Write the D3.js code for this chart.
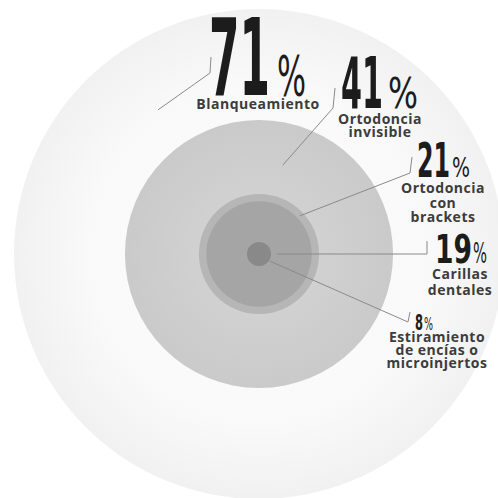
<!DOCTYPE html>
<html>
<head>
<meta charset="utf-8">
<script src="https://cdn.jsdelivr.net/npm/d3@7"></script>
<style>
  html, body { margin: 0; padding: 0; background: #ffffff; }
  svg { display: block; }
</style>
</head>
<body>
<div id="chart"></div>
<script>
// ---- data ----
const categories = ["Blanqueamiento", "Ortodoncia invisible", "Ortodoncia con brackets", "Carillas dentales", "Estiramiento de encías o microinjertos"];
const values = [71, 41, 21, 19, 8];
const labelLines = [
  ["Blanqueamiento"],
  ["Ortodoncia", "invisible"],
  ["Ortodoncia", "con", "brackets"],
  ["Carillas", "dentales"],
  ["Estiramiento", "de encías o", "microinjertos"]
];
const fills = ["#f5f5f5", "#cfcfcf", "#b6b6b6", "#a5a5a5", "#898989"];

// ---- layout (positions/styles only) ----
const W = 498, H = 498;
const cx = 259, cy = 254;
const layout = [
  { nx: 209, base: 95,  nH: 77, nW: 61, pW: 29, pH: 40, gap: 7, tx: 258, tBase: 109, lh: 13,
    anchorAng: -125, anchorR: 176, elbow: [210, 73], tick: [211, 57] },
  { nx: 341, base: 108, nH: 51, nW: 42, pW: 30, pH: 30, gap: 5, tx: 380, tBase: 124, lh: 13,
    anchorAng: -75, anchorR: 92, elbow: [333, 108], tick: [335, 88] },
  { nx: 417, base: 177, nH: 34, nW: 33, pW: 18, pH: 19, gap: 2, tx: 443, tBase: 193, lh: 14.5,
    anchorAng: -43, anchorR: 56, elbow: [410, 173], tick: [412, 157] },
  { nx: 435, base: 263, nH: 28, nW: 37, pW: 14, pH: 20, gap: 1, tx: 460, tBase: 279, lh: 16,
    anchorAng: 0, anchorR: 18, elbow: [427, 254], tick: [427, 241] },
  { nx: 415, base: 330, nH: 15, nW: 8, pW: 9, pH: 12, gap: 1, tx: 437, tBase: 342, lh: 13,
    anchorAng: 33, anchorR: 13, elbow: [408, 322], tick: [410, 312] }
];

const svg = d3.select("#chart").append("svg")
  .attr("width", W).attr("height", H)
  .attr("viewBox", `0 0 ${W} ${H}`);

svg.append("rect").attr("width", W).attr("height", H).attr("fill", "#ffffff");

const r = d3.scaleLinear().domain([8, 71]).range([12, 245]);

// gradients
const defs = svg.append("defs");
const g0 = defs.append("radialGradient").attr("id", "g0");
g0.append("stop").attr("offset", "0%").attr("stop-color", "#fdfdfd");
g0.append("stop").attr("offset", "70%").attr("stop-color", "#f9f9f9");
g0.append("stop").attr("offset", "100%").attr("stop-color", "#f1f1f1");
const g1 = defs.append("radialGradient").attr("id", "g1");
g1.append("stop").attr("offset", "0%").attr("stop-color", "#d6d6d6");
g1.append("stop").attr("offset", "100%").attr("stop-color", "#cacaca");

const data = categories.map((c, i) => ({ cat: c, v: values[i], lines: labelLines[i], fill: fills[i], L: layout[i] }));

svg.append("g").selectAll("circle")
  .data(data)
  .join("circle")
  .attr("cx", cx).attr("cy", cy)
  .attr("r", d => r(d.v))
  .attr("fill", (d, i) => i === 0 ? "url(#g0)" : (i === 1 ? "url(#g1)" : d.fill));

// leader lines
const lineGen = d3.line();
svg.append("g").selectAll("path")
  .data(data)
  .join("path")
  .attr("d", d => {
    const a = d.L.anchorAng * Math.PI / 180;
    const p0 = [cx + d.L.anchorR * Math.cos(a), cy + d.L.anchorR * Math.sin(a)];
    return lineGen([p0, d.L.elbow, d.L.tick]);
  })
  .attr("fill", "none")
  .attr("stroke", "#8a8a8a")
  .attr("stroke-width", 1);

// labels
const numFont = "'Liberation Sans Narrow', 'DejaVu Sans Condensed', sans-serif";
const lab = svg.append("g").selectAll("g").data(data).join("g");

lab.append("text")
  .attr("x", d => d.L.nx)
  .attr("y", d => d.L.base)
  .attr("font-family", numFont)
  .attr("font-weight", 700)
  .attr("font-size", d => d.L.nH / 0.716)
  .attr("textLength", d => d.L.nW)
  .attr("lengthAdjust", "spacingAndGlyphs")
  .attr("fill", "#1c1c1c")
  .text(d => String(d.v));

lab.append("text")
  .attr("x", d => d.L.nx + d.L.nW + d.L.gap)
  .attr("y", d => d.L.base)
  .attr("font-family", numFont)
  .attr("font-weight", 400)
  .attr("font-size", d => d.L.pH / 0.716)
  .attr("textLength", d => d.L.pW)
  .attr("lengthAdjust", "spacingAndGlyphs")
  .attr("fill", "#1c1c1c")
  .text("%");

lab.each(function(d) {
  d3.select(this).selectAll("text.line")
    .data(d.lines)
    .join("text")
    .attr("class", "line")
    .attr("x", d.L.tx)
    .attr("y", (s, j) => d.L.tBase + j * d.L.lh)
    .attr("text-anchor", "middle")
    .attr("font-family", "'Open Sans', sans-serif")
    .attr("font-weight", 700)
    .attr("font-size", 14)
    .attr("letter-spacing", 0.5)
    .attr("fill", "#3c3c3c")
    .text(s => s);
});
</script>
</body>
</html>
